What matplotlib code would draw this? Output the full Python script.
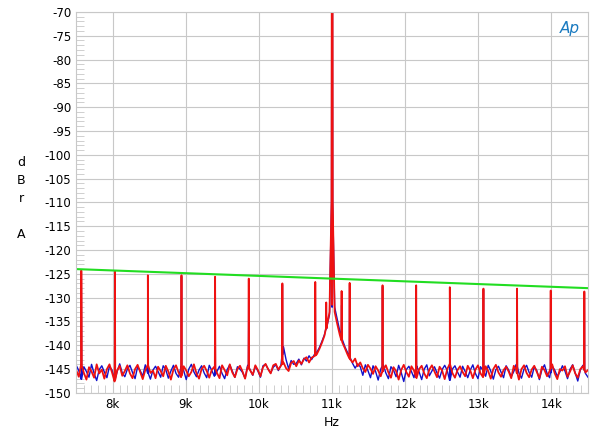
import matplotlib
matplotlib.use("Agg")
import matplotlib.pyplot as plt
import numpy as np
from matplotlib.ticker import MultipleLocator, FuncFormatter

# noise floor sampled every 0.035 kHz from 7.5k to 14.5k (201 points)
floor_start, floor_step = 7.5, 0.035
red_floor = [
 -145.2,-146.6,-144.1,-145.8,-147.2,-144.6,-145.5,-146.8,-144.0,-145.9,-145.1,-147.0,-145.0,-144.0,-145.7,-147.6,-145.3,-144.3,-146.4,-145.4,
 -144.2,-145.9,-146.9,-145.0,-144.1,-145.6,-147.1,-145.2,-144.2,-145.8,-145.3,-146.9,-144.5,-145.4,-146.5,-144.3,-145.5,-147.2,-145.1,-144.2,
 -145.7,-146.7,-144.4,-145.3,-146.5,-145.6,-144.0,-145.9,-147.0,-145.0,-144.3,-145.4,-146.8,-145.1,-144.5,-145.8,-146.9,-144.2,-145.2,-146.3,
 -144.0,-145.7,-146.7,-145.0,-144.3,-145.5,-147.0,-144.5,-145.3,-146.2,-144.2,-145.2,-146.5,-144.6,-143.9,-145.0,-145.9,-144.2,-143.9,-145.1,
 -144.3,-143.6,-144.8,-145.4,-143.7,-143.3,-144.4,-143.2,-143.9,-142.9,-142.5,-143.6,-142.6,-142.3,-141.9,-140.8,-139.5,-138.0,-135.8,-133.0,
 -131.5,-133.0,-135.5,-137.8,-139.4,-140.6,-141.9,-142.9,-143.6,-142.8,-144.4,-143.6,-144.8,-145.6,-144.1,-144.9,-146.0,-144.4,-145.3,-146.5,
 -145.1,-144.2,-145.7,-146.8,-144.6,-145.4,-147.2,-145.2,-144.1,-145.6,-146.6,-144.4,-145.3,-146.9,-145.0,-144.3,-145.9,-146.9,-145.1,-144.2,
 -145.5,-146.7,-144.5,-145.3,-147.1,-145.0,-144.0,-145.8,-146.8,-145.2,-144.4,-145.6,-146.5,-144.3,-145.3,-146.9,-145.1,-144.2,-145.9,-146.7,
 -144.4,-145.4,-147.0,-145.0,-144.1,-145.7,-146.6,-145.2,-144.5,-145.5,-146.9,-144.3,-145.3,-147.2,-145.0,-144.2,-145.8,-146.7,-145.1,-144.3,
 -145.6,-146.9,-144.5,-145.2,-146.5,-145.4,-144.0,-145.9,-147.1,-145.0,-145.3,-144.4,-146.6,-145.5,-144.2,-145.9,-146.8,-145.0,-144.4,-145.7,
 -145.2]
blue_floor = [
 -144.2,-145.3,-147.1,-144.5,-145.5,-146.7,-144.0,-145.9,-147.4,-145.1,-144.3,-145.6,-146.8,-144.4,-145.2,-147.3,-145.5,-143.9,-145.8,-146.6,
 -145.0,-144.2,-145.7,-147.0,-144.5,-145.3,-146.5,-144.1,-145.8,-147.1,-145.2,-144.4,-145.5,-146.7,-144.3,-145.1,-146.9,-145.4,-144.2,-145.9,
 -146.7,-144.5,-145.3,-147.2,-145.0,-144.0,-145.6,-146.6,-145.2,-144.3,-145.8,-146.8,-144.2,-145.3,-146.5,-145.5,-144.4,-145.9,-147.0,-145.1,
 -144.1,-145.4,-146.7,-144.5,-145.0,-145.7,-146.9,-144.2,-145.2,-146.3,-144.4,-145.4,-146.7,-144.3,-144.0,-145.0,-145.8,-144.6,-144.1,-145.3,
 -144.2,-140.3,-143.0,-144.9,-143.2,-144.0,-143.8,-142.9,-144.1,-142.7,-143.3,-142.2,-143.0,-142.0,-141.5,-140.5,-139.2,-137.8,-136.0,-133.5,
 -132.0,-132.0,-134.5,-137.0,-138.8,-140.3,-141.5,-142.5,-143.8,-144.8,-143.9,-144.5,-146.3,-144.1,-145.3,-146.8,-144.3,-145.5,-147.3,-145.0,
 -144.1,-145.8,-147.0,-144.5,-145.2,-146.6,-144.2,-145.7,-147.6,-145.1,-144.4,-145.5,-146.8,-144.3,-145.6,-147.2,-145.0,-144.1,-146.4,-145.4,
 -144.5,-145.8,-146.9,-145.1,-144.2,-145.3,-147.3,-145.0,-144.3,-145.6,-146.7,-144.4,-145.5,-146.8,-145.2,-144.1,-145.9,-147.0,-144.5,-145.3,
 -146.5,-144.2,-145.4,-147.1,-145.1,-144.4,-145.6,-146.8,-144.3,-145.2,-146.6,-145.5,-144.0,-145.8,-146.9,-145.0,-144.2,-145.7,-146.7,-144.5,
 -145.3,-147.2,-145.1,-144.1,-145.9,-146.8,-144.4,-145.2,-146.5,-145.6,-144.3,-145.4,-147.0,-145.0,-144.1,-145.8,-147.5,-145.2,-144.2,-145.9,
 -146.7]

# discrete spurious tones (kHz, dBr)
spike_freq = [7.57, 8.03, 8.48, 8.94, 9.40, 9.86, 10.32, 10.77, 10.92, 11.13, 11.24,
              11.69, 12.15, 12.61, 13.07, 13.53, 13.99, 14.45]
spike_red  = [-124.3, -124.5, -125.3, -125.3, -125.6, -126.0, -127.0, -126.7, -131.0, -128.6, -126.9,
              -127.4, -127.4, -127.8, -128.1, -128.1, -128.5, -128.7]
spike_blue = [-124.6, -124.8, -125.6, -125.6, -125.9, -126.3, -127.3, -127.0, -131.8, -131.6, -127.2,
              -127.7, -127.7, -128.1, -128.4, -128.4, -128.8, -129.0]
# fundamental
fund_freq = 11.0
fund_level = -40.0
# green limit line
limit_freq = [7.5, 14.5]
limit_level = [-124.0, -128.0]


def trace(floor, levels):
    fx = floor_start + floor_step * np.arange(len(floor))
    pts = list(zip(fx, floor))
    for sf, sl in zip(spike_freq, levels):
        base = np.interp(sf, fx, floor)
        pts += [(sf - 0.004, base), (sf, sl), (sf + 0.004, base)]
    pts += [(fund_freq - 0.03, -128.0), (fund_freq - 0.008, -110.0), (fund_freq - 0.003, fund_level),
            (fund_freq + 0.003, fund_level), (fund_freq + 0.008, -110.0), (fund_freq + 0.03, -128.0)]
    pts.sort()
    return [p[0] for p in pts], [p[1] for p in pts]


fig = plt.figure(figsize=(6.0, 4.41), dpi=100)
ax = fig.add_axes([0.127, 0.109, 0.853, 0.864])

bx, by = trace(blue_floor, spike_blue)
rx, ry = trace(red_floor, spike_red)
ax.plot(bx, by, color="#1010cc", lw=1.0)
ax.plot(rx, ry, color="#ee1111", lw=1.3)
ax.plot(limit_freq, limit_level, color="#22dd22", lw=1.5)

ax.set_xlim(7.5, 14.5)
ax.set_ylim(-150, -70)
ax.xaxis.set_major_locator(MultipleLocator(1))
ax.xaxis.set_minor_locator(MultipleLocator(0.1))
ax.yaxis.set_major_locator(MultipleLocator(5))
ax.yaxis.set_minor_locator(MultipleLocator(1))
ax.xaxis.set_major_formatter(FuncFormatter(lambda v, p: f"{int(round(v))}k"))
ax.yaxis.set_major_formatter(FuncFormatter(lambda v, p: f"{int(v)}"))
ax.grid(True, which="major", color="#c8c8c8", lw=0.8)
ax.tick_params(which="both", direction="in", colors="#c8c8c8", labelcolor="black", labelsize=8.5)
ax.tick_params(which="major", length=0)
ax.tick_params(which="minor", length=6, width=0.6)
for s in ax.spines.values():
    s.set_color("#c8c8c8")
ax.set_axisbelow(True)
ax.set_xlabel("Hz", fontsize=9)
fig.text(0.035, 0.55, "d\nB\nr\n\nA", fontsize=9, ha="center", va="center", linespacing=1.5)
ax.text(0.965, 0.975, "Ap", transform=ax.transAxes, color="#1a7ac0", fontsize=11,
        fontstyle="italic", ha="center", va="top")
fig.savefig("out.png", dpi=100)
